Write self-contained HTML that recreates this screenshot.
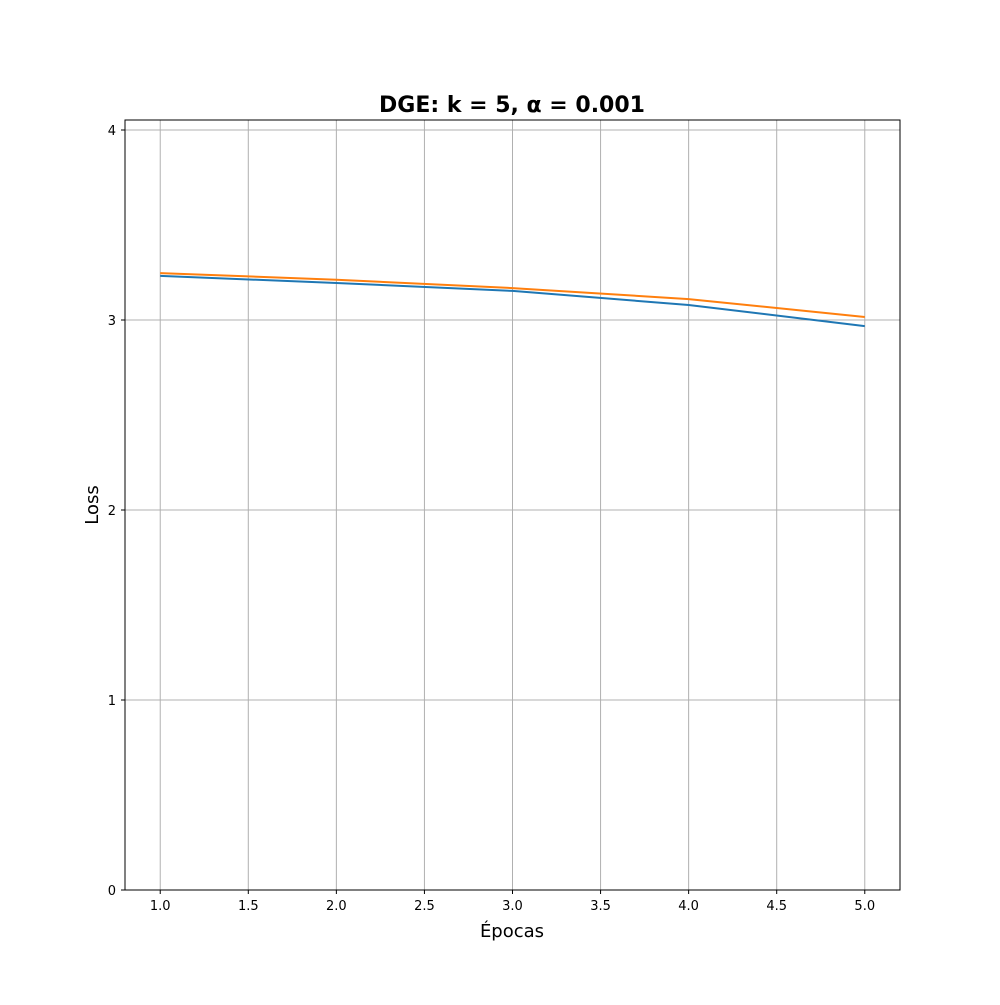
<!DOCTYPE html>
<html><head><meta charset="utf-8"><style>
body{margin:0;background:#fff;}
svg text{font-family:"DejaVu Sans","Liberation Sans",sans-serif;}
</style></head><body>
<svg id="chart" width="1000" height="1000" xmlns="http://www.w3.org/2000/svg">
<rect width="1000" height="1000" fill="#fff"/>
<g id="grid"></g>
<g id="ticks"></g>
<g id="series"></g>
<rect x="125" y="120" width="775" height="770" fill="none" stroke="#000" stroke-width="1"/>
<text x="512" y="112" text-anchor="middle" font-size="22" font-weight="bold">DGE: k = 5, α = 0.001</text>
<text x="512" y="937" text-anchor="middle" font-size="18">Épocas</text>
<text x="98" y="505" text-anchor="middle" font-size="18" transform="rotate(-90 98 505)">Loss</text>
</svg>
<script>
const epochs = [1, 2, 3, 4, 5];
const seriesBlue = [3.232, 3.195, 3.153, 3.079, 2.968];
const seriesOrange = [3.247, 3.212, 3.168, 3.110, 3.016];
const xTicks = [1.0, 1.5, 2.0, 2.5, 3.0, 3.5, 4.0, 4.5, 5.0];
const yTicks = [0, 1, 2, 3, 4];

const L=125,R=900,T=120,B=890, xmin=0.8,xmax=5.2, ymin=0,ymax=4.0526;
const sx=v=>L+(v-xmin)/(xmax-xmin)*(R-L);
const sy=v=>B-(v-ymin)/(ymax-ymin)*(B-T);
const NS="http://www.w3.org/2000/svg";
function mk(tag,attrs,parent){const e=document.createElementNS(NS,tag);for(const k in attrs)e.setAttribute(k,attrs[k]);parent.appendChild(e);return e;}
const grid=document.getElementById('grid'),ticks=document.getElementById('ticks'),series=document.getElementById('series');
xTicks.forEach(t=>{
  const x=sx(t);
  const g=mk('line',{x1:x,x2:x,y1:T,y2:B,stroke:'#b0b0b0','stroke-width':1},grid);
  
  
  const tk=mk('line',{x1:x,x2:x,y1:B,y2:B+4,stroke:'#000'},ticks);
  
  
  const lb=mk('text',{x:x,y:B+20,'text-anchor':'middle','font-size':13},ticks);
  lb.textContent=t.toFixed(1);
  
  
});
yTicks.forEach(t=>{
  const y=sy(t);
  const g=mk('line',{x1:L,x2:R,y1:y,y2:y,stroke:'#b0b0b0','stroke-width':1},grid);
  
  
  const tk=mk('line',{x1:L-4,x2:L,y1:y,y2:y,stroke:'#000'},ticks);
  
  
  const lb=mk('text',{x:L-9,y:y+5,'text-anchor':'end','font-size':13},ticks);
  lb.textContent=String(t);
  
  
});
function line(vals,color,name){
  const pts=epochs.map((e,i)=>sx(e)+','+sy(vals[i])).join(' ');
  const p=mk('polyline',{points:pts,fill:'none',stroke:color,'stroke-width':2},series);
  
  
}
line(seriesOrange,'#ff7f0e','orange-loss-line');
line(seriesBlue,'#1f77b4','blue-loss-line');
</script>
</body></html>
